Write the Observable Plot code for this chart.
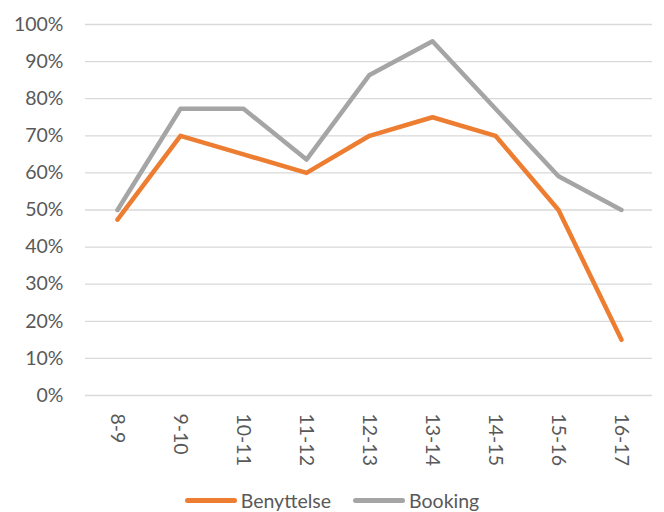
<!DOCTYPE html>
<html>
<head>
<meta charset="utf-8">
<script src="https://cdn.jsdelivr.net/npm/d3@7"></script>
<script src="https://cdn.jsdelivr.net/npm/@observablehq/plot@0.6"></script>
<style>
  html, body { margin: 0; padding: 0; background: #fff; }
  #chart { width: 664px; }
  .legend { display: flex; justify-content: center; align-items: center; height: 40px; margin-top: 10px;
            font-family: Lato, "Open Sans", sans-serif; font-size: 19.5px; color: #595959; }
  .item { display: flex; align-items: center; margin: 0 11px; }
  .sw { width: 52px; height: 5px; border-radius: 3px; margin-right: 4px; }
</style>
</head>
<body>
<div id="chart"></div>
<script>
const categories = ["8-9", "9-10", "10-11", "11-12", "12-13", "13-14", "14-15", "15-16", "16-17"];
const seriesNames = ["Benyttelse", "Booking"];
const benyttelse = [0.474, 0.70, 0.65, 0.60, 0.70, 0.75, 0.70, 0.50, 0.15];
const booking = [0.50, 0.773, 0.773, 0.636, 0.864, 0.955, 0.773, 0.591, 0.50];
const colors = ["#ED7D31", "#A5A5A5"];
const yTicks = [0, 0.1, 0.2, 0.3, 0.4, 0.5, 0.6, 0.7, 0.8, 0.9, 1.0];

const values = [benyttelse, booking];
const data = [];
seriesNames.forEach((s, i) => categories.forEach((c, j) => data.push({series: s, cat: c, value: values[i][j]})));
const fmt = d => Math.round(d * 100) + "%";

const plot = Plot.plot({
  width: 664,
  height: 470,
  marginTop: 24,
  marginBottom: 75,
  marginLeft: 85,
  marginRight: 12,
  style: {fontFamily: "Lato, 'Open Sans', sans-serif", fontSize: "19.5px", color: "#595959", background: "white", overflow: "visible"},
  x: {type: "point", domain: categories, padding: 0.5, label: null},
  y: {domain: [0, 1], label: null},
  color: {domain: seriesNames, range: colors},
  marks: [
    Plot.gridY(yTicks, {stroke: "#D9D9D9", strokeOpacity: 1, strokeWidth: 1.3}),
    Plot.axisY(yTicks, {tickSize: 0, tickPadding: 22, tickFormat: fmt, label: null, fill: "#595959"}),
    Plot.axisX({tickSize: 0, tickRotate: 90, tickPadding: 18, label: null, fill: "#595959"}),
    Plot.line(data, {x: "cat", y: "value", z: "series", stroke: "series", strokeWidth: 4.5,
                     strokeLinejoin: "round", strokeLinecap: "round"})
  ]
});
document.getElementById("chart").appendChild(plot);

const legend = document.createElement("div");
legend.className = "legend";
seriesNames.forEach((s, i) => {
  const it = document.createElement("div");
  it.className = "item";
  const sw = document.createElement("div");
  sw.className = "sw";
  sw.style.background = colors[i];
  const t = document.createElement("span");
  t.textContent = s;
  it.appendChild(sw);
  it.appendChild(t);
  legend.appendChild(it);
});
document.getElementById("chart").appendChild(legend);
</script>
</body>
</html>
